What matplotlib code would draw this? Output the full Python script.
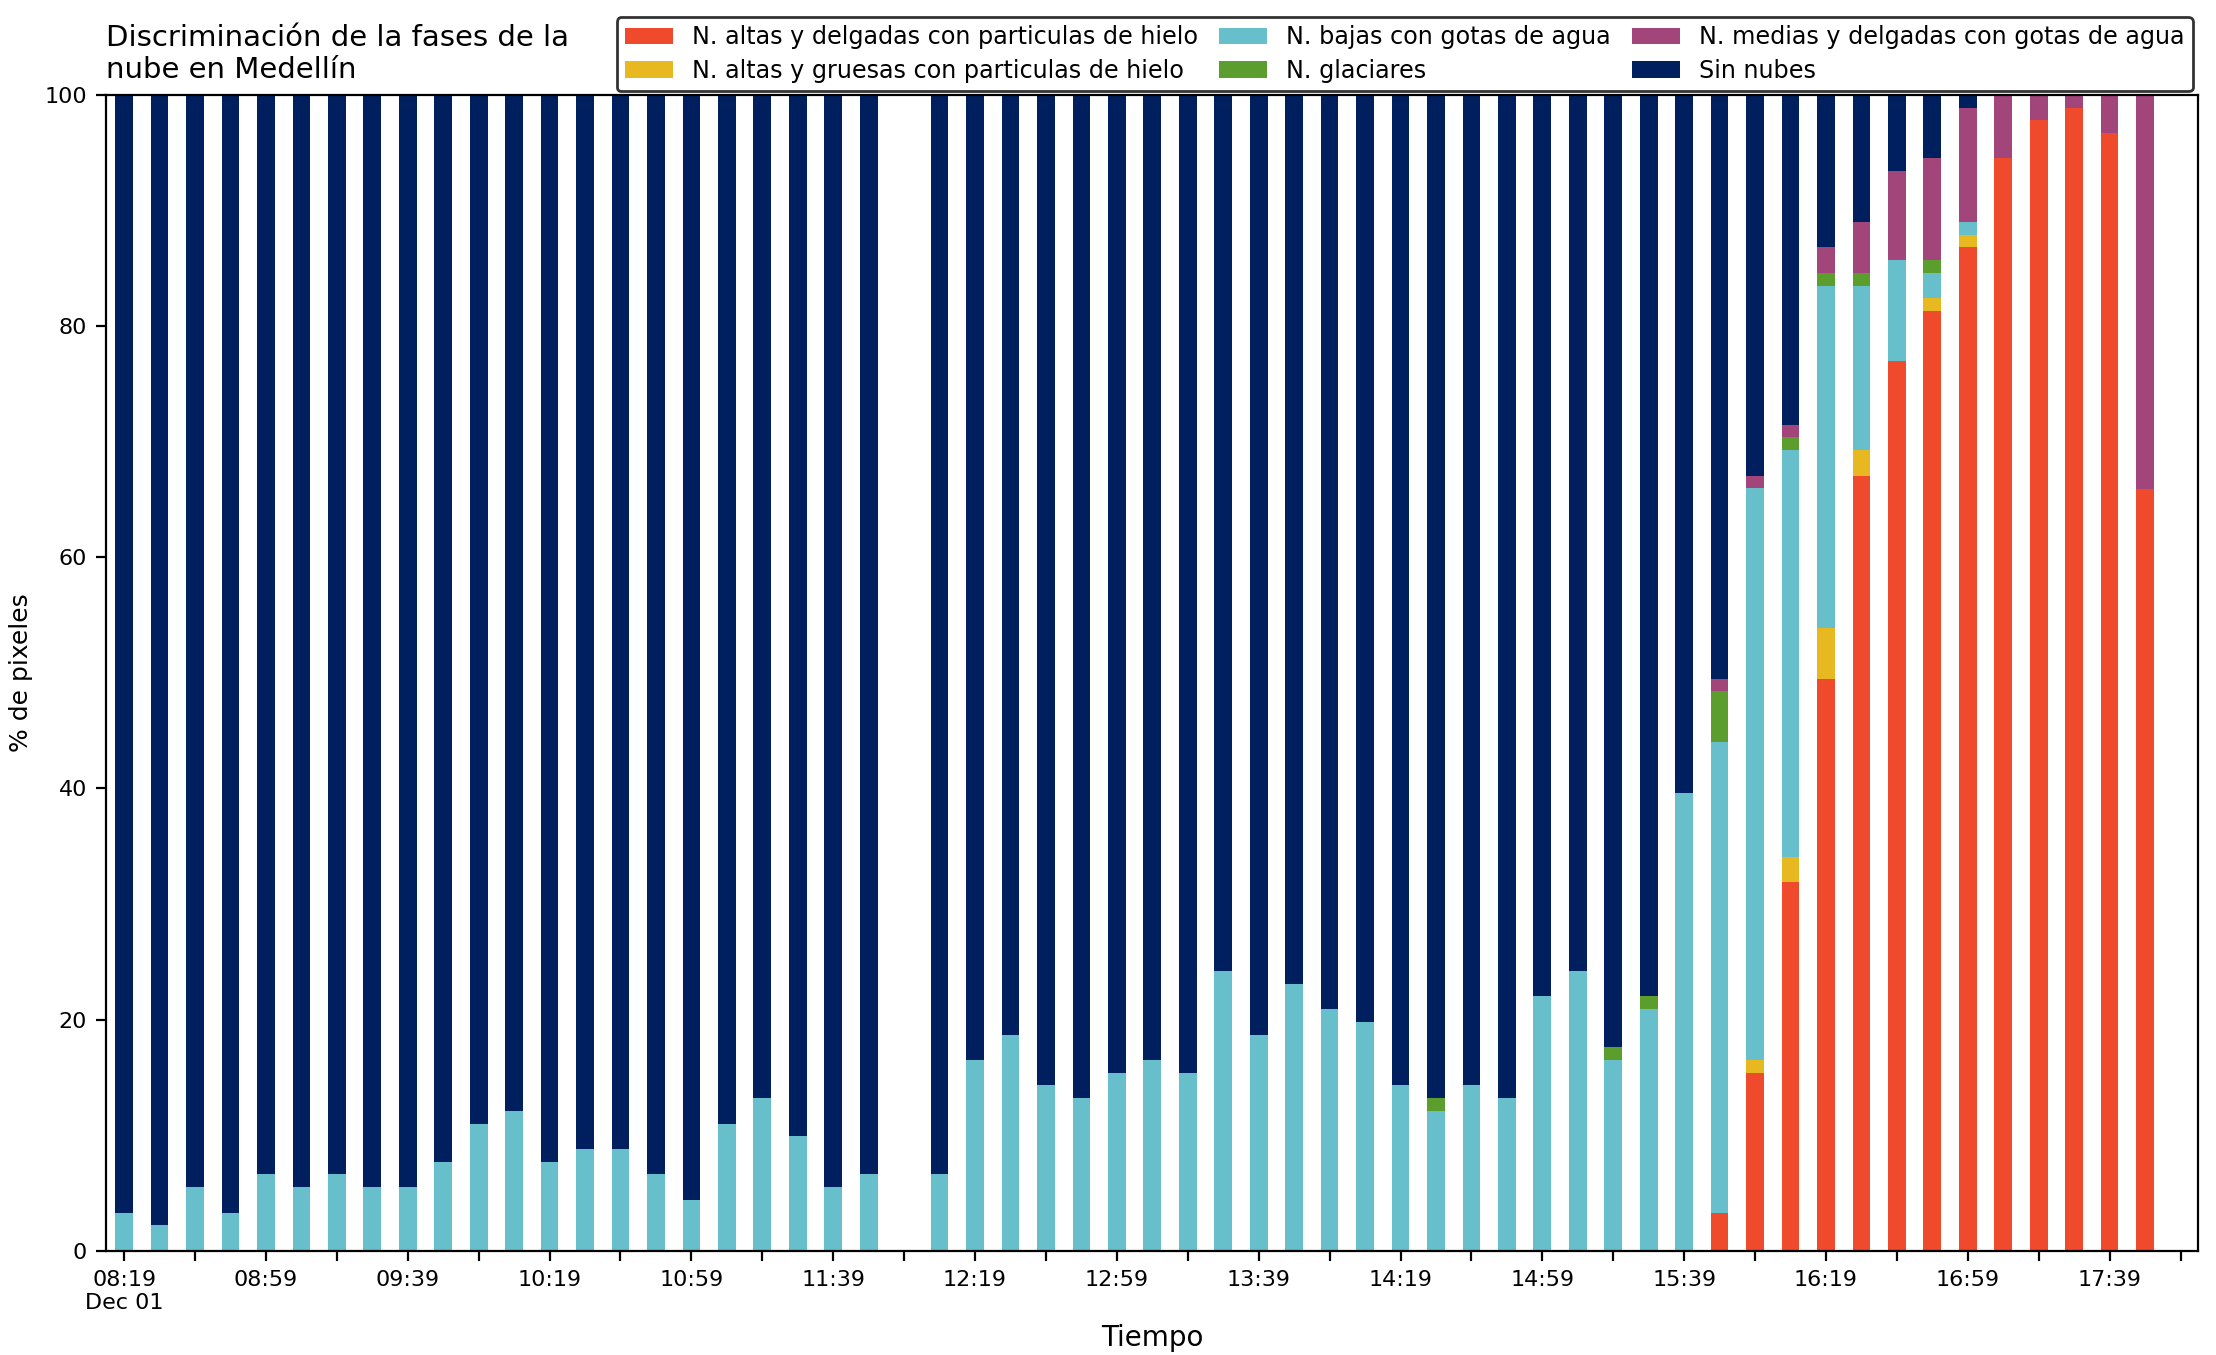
import matplotlib.pyplot as plt
import numpy as np

# minutes after 08:19 for each bar (11:59 missing)
minutes = [i * 10 for i in range(22)] + [i * 10 for i in range(23, 58)]

# cumulative tops, per category
red = [0] * 44 + [3.3, 15.4, 31.9, 49.5, 67, 77, 81.3, 86.8, 94.5, 97.8, 98.9, 96.7, 65.9]
yellow_top = [0] * 44 + [3.3, 16.5, 34.1, 53.9, 69.3, 77, 82.4, 87.9, 94.5, 97.8, 98.9, 96.7, 65.9]
cyan_top = [3.3, 2.2, 5.5, 3.3, 6.6, 5.5, 6.6, 5.5, 5.5, 7.7, 11, 12.1, 7.7, 8.8, 8.8, 6.6,
            4.4, 11, 13.2, 9.9, 5.5, 6.6,
            6.6, 16.5, 18.7, 14.3, 13.2, 15.4, 16.5, 15.4, 24.2, 18.7, 23.1, 20.9, 19.8, 14.3,
            12.1, 14.3, 13.2, 22, 24.2, 16.5, 20.9, 39.6,
            44, 66, 69.3, 83.5, 83.5, 85.7, 84.6, 89, 94.5, 97.8, 98.9, 96.7, 65.9]
green_top = cyan_top[:36] + [13.2] + cyan_top[37:41] + [17.6, 22, 39.6,
            48.4, 66, 70.4, 84.6, 84.6, 85.7, 85.7, 89, 94.5, 97.8, 98.9, 96.7, 65.9]
purple_top = green_top[:44] + [49.5, 67, 71.4, 86.8, 89, 93.4, 94.5, 98.9, 100, 100, 100, 100, 100]

labels = ["N. altas y delgadas con particulas de hielo", "N. altas y gruesas con particulas de hielo",
          "N. bajas con gotas de agua", "N. glaciares",
          "N. medias y delgadas con gotas de agua", "Sin nubes"]
colors = ["#EE4A2B", "#E8B821", "#66BFCB", "#5C9E2E", "#A2457B", "#001F5F"]

tops = [np.array(red), np.array(yellow_top), np.array(cyan_top), np.array(green_top),
        np.array(purple_top), np.full(len(minutes), 100.0)]

fig = plt.figure(figsize=(11.08, 6.775), dpi=200)
ax = fig.add_axes([0.048, 0.077, 0.944, 0.853])
x = np.array(minutes)
bottom = np.zeros(len(minutes))
for top, lab, col in zip(tops, labels, colors):
    ax.bar(x, top - bottom, bottom=bottom, width=5, color=col, label=lab)
    bottom = top

ax.set_xlim(-5, 585)
ax.set_ylim(0, 100)
ticks = np.arange(0, 581, 20)
ax.set_xticks(ticks)
tlabels = []
for t in ticks:
    if t % 40:
        tlabels.append("")
    else:
        m = 8 * 60 + 19 + t
        tlabels.append(f"{m // 60:02d}:{m % 60:02d}")
tlabels[0] = "08:19\nDec 01"
ax.set_xticklabels(tlabels, fontsize=8)
ax.tick_params(axis="y", labelsize=8)
ax.set_xlabel("Tiempo", fontsize=10)
ax.set_ylabel("% de pixeles", fontsize=9)
ax.set_title("Discriminación de la fases de la\nnube en Medellín", loc="left", fontsize=10.5)
ax.legend(ncol=3, loc="lower right", bbox_to_anchor=(0.9975, 1.003), fontsize=8.6,
          frameon=True, edgecolor="black", fancybox=True, borderaxespad=0,
          columnspacing=0.9, handlelength=2.0, labelspacing=0.4, borderpad=0.35)

fig.savefig("out.png", dpi=200)
